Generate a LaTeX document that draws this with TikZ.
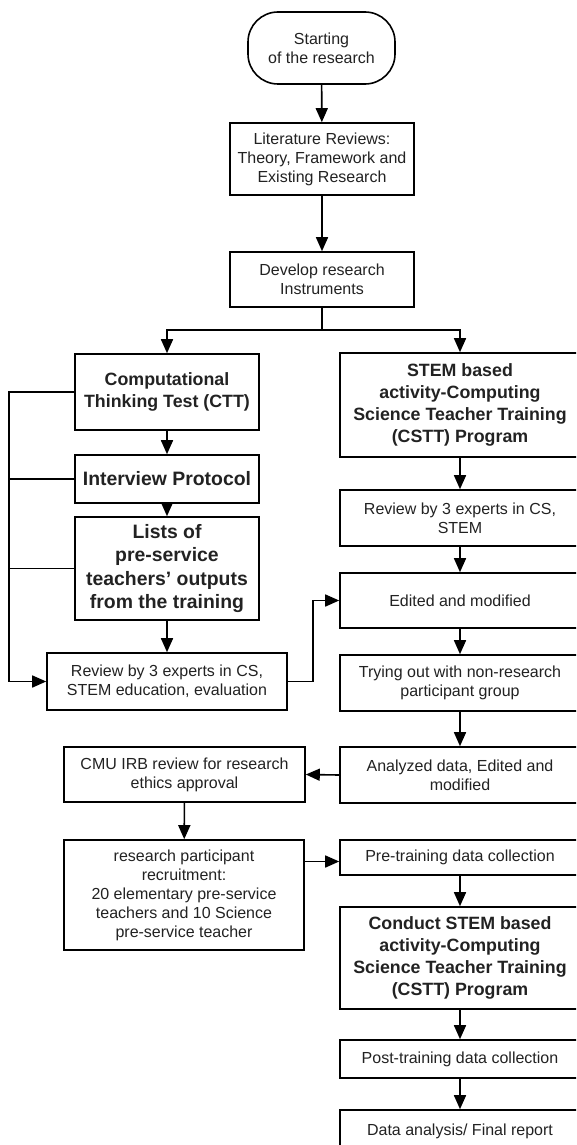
\documentclass[tikz,border=0pt]{standalone}
\usepackage{fontspec}
\setmainfont{Liberation Sans}
\usetikzlibrary{arrows.meta,calc}
\definecolor{txt}{HTML}{222222}
\tikzset{
  box/.style={draw=black, line width=1.6pt, fill=white, align=center, text=txt,
    inner sep=2pt, font=\fontsize{16}{19}\selectfont},
  bbox/.style={box, font=\fontsize{17.8}{22}\selectfont\bfseries},
  lbox/.style={box, font=\fontsize{19.4}{23.3}\selectfont\bfseries},
  term/.style={box, rounded corners=30pt},
  arr/.style={draw=black, line width=1.6pt, -{Triangle[length=14pt,width=12pt]}},
  ln/.style={draw=black, line width=1.6pt},
}
\begin{document}
\begin{tikzpicture}[x=1pt,y=-1pt]
\clip (0,0) rectangle (576,1145);
\fill[white] (0,0) rectangle (576,1145);
% nodes
\node[term, minimum width=147pt, minimum height=72pt] (start) at (321.5,48) {Starting\\of the research};
\node[box, minimum width=184pt, minimum height=72pt] (lit) at (322,159) {Literature Reviews:\\Theory, Framework and\\Existing Research};
\node[box, minimum width=184pt, minimum height=55pt] (dev) at (322,279.5) {Develop research\\Instruments};
\coordinate (j1) at (322,330);
% left column
\node[bbox, minimum width=184pt, minimum height=76pt] (ctt) at (167,392) {Computational\\Thinking Test (CTT)};
\node[lbox, minimum width=184pt, minimum height=48pt] (inter) at (167,479) {Interview Protocol};
\node[lbox, minimum width=184pt, minimum height=103pt] (lists) at (167,568.5) {Lists of\\pre-service\\teachers’ outputs\\from the training};
\node[box, minimum width=240pt, minimum height=57pt] (rev1) at (167,681.5) {Review by 3 experts in CS,\\STEM education, evaluation};
\node[box, minimum width=241pt, minimum height=55pt] (cmu) at (184.5,774.5) {CMU IRB review for research\\ethics approval};
\node[box, minimum width=240pt, minimum height=110pt] (part) at (184,895) {research participant\\recruitment:\\20 elementary pre-service\\teachers and 10 Science\\pre-service teacher};
% right column
\node[bbox, minimum width=240pt, minimum height=104pt] (stem) at (460,405) {STEM based\\activity-Computing\\Science Teacher Training\\(CSTT) Program};
\node[box, minimum width=240pt, minimum height=56pt] (rev2) at (460,518) {Review by 3 experts in CS,\\STEM};
\node[box, minimum width=240pt, minimum height=55pt] (edit) at (460,600.5) {Edited and modified};
\node[box, minimum width=240pt, minimum height=56pt] (try) at (460,683) {Trying out with non-research\\participant group};
\node[box, minimum width=240pt, minimum height=56pt] (anal) at (460,775) {Analyzed data, Edited and\\modified};
\node[box, minimum width=240pt, minimum height=35pt] (pre) at (460,857.5) {Pre-training data collection};
\node[bbox, minimum width=240pt, minimum height=102pt] (cond) at (460,958) {Conduct STEM based\\activity-Computing\\Science Teacher Training\\(CSTT) Program};
\node[box, minimum width=240pt, minimum height=38pt] (post) at (460,1059) {Post-training data collection};
\node[box, minimum width=240pt, minimum height=40pt, text depth=0pt] (data) at (460,1130) {Data analysis/ Final report};
% connectors
\draw[arr] (start) -- (lit);
\draw[arr] (lit) -- (dev);
\draw[ln] (dev.south) -- (j1);
\draw[arr] (j1) -| (ctt.north);
\draw[arr] (j1) -| (stem.north);
\draw[arr] (ctt) -- (inter);
\draw[arr] (inter) -- (lists);
\draw[arr] (lists) -- (rev1);
\coordinate (bt) at (9,392);
\coordinate (bb) at (9,681.5);
\draw[ln] (ctt.west) -- (bt) -- (bb);
\draw[ln] (inter.west) -- (inter.west -| bt);
\draw[ln] (lists.west) -- (lists.west -| bt);
\draw[arr] (bb) -- (rev1.west);
\coordinate (rb) at (313,681.5);
\draw[arr] (rev1.east) -- (rb) |- (edit.west);
\draw[arr] (stem) -- (rev2);
\draw[arr] (rev2) -- (edit);
\draw[arr] (edit) -- (try);
\draw[arr] (try) -- (anal);
\draw[arr] (anal.west) -- (cmu.east);
\draw[arr] (cmu) -- (part);
\draw[arr] ([yshift=-4pt]part.east |- pre.west) -- ([yshift=-4pt]pre.west);
\draw[arr] (pre) -- (cond);
\draw[arr] (cond) -- (post);
\draw[arr] (post) -- (data);
\end{tikzpicture}
\end{document}
